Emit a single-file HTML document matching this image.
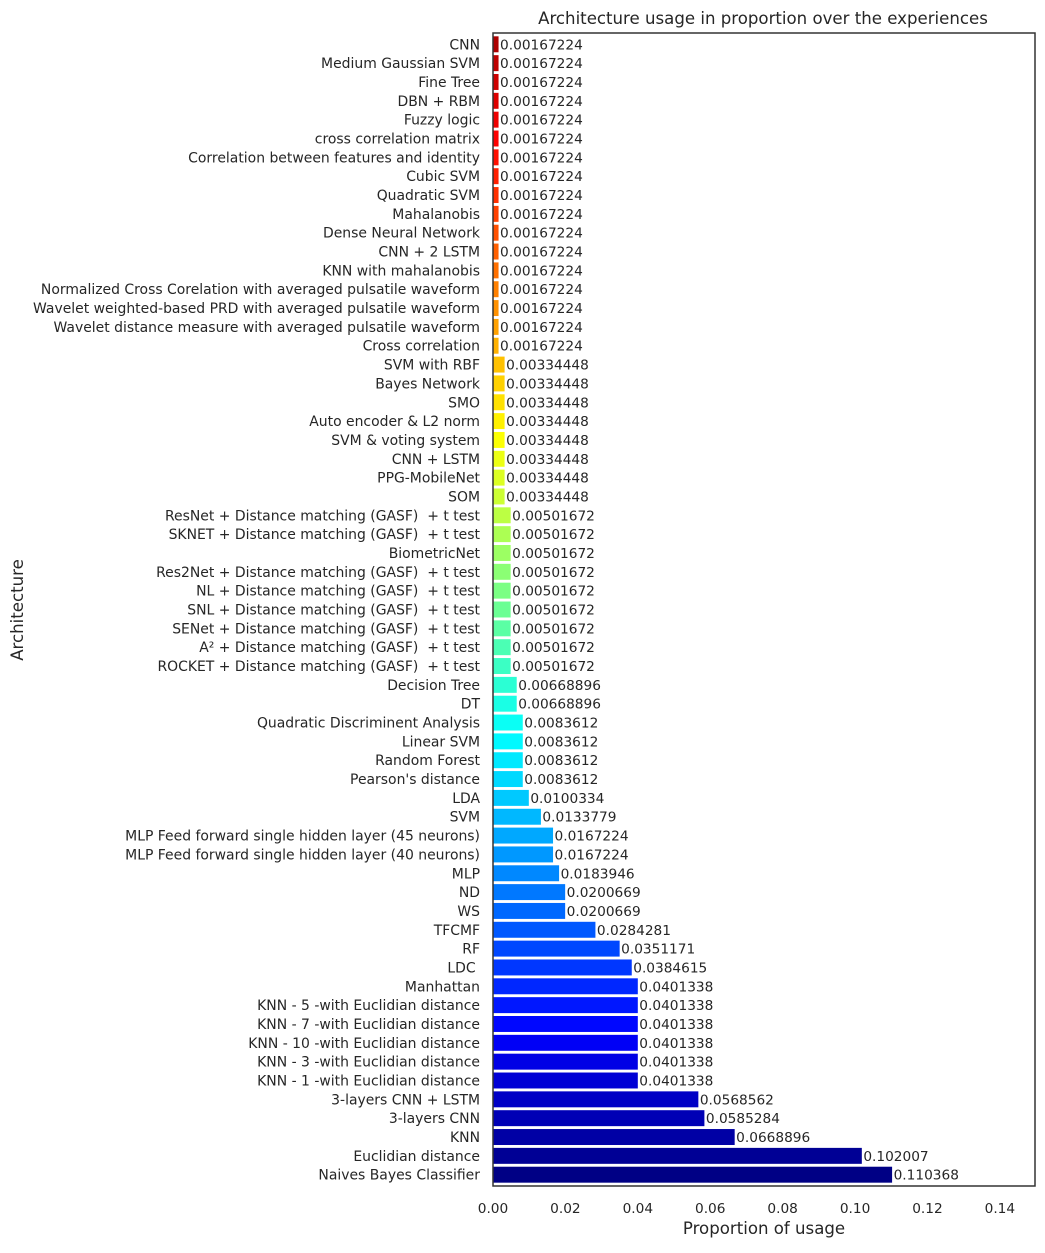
<!DOCTYPE html>
<html><head><meta charset="utf-8"><style>
body{margin:0;background:#fff;font-family:"Liberation Sans","DejaVu Sans",sans-serif}
text{white-space:pre}
</style></head><body>
<svg id="c" width="1045" height="1248" style="font-family:'DejaVu Sans','Liberation Sans',sans-serif"></svg>
<script>
const categories=["CNN","Medium Gaussian SVM","Fine Tree","DBN + RBM","Fuzzy logic","cross correlation matrix","Correlation between features and identity","Cubic SVM","Quadratic SVM","Mahalanobis","Dense Neural Network","CNN + 2 LSTM","KNN with mahalanobis","Normalized Cross Corelation with averaged pulsatile waveform","Wavelet weighted-based PRD with averaged pulsatile waveform","Wavelet distance measure with averaged pulsatile waveform","Cross correlation","SVM with RBF","Bayes Network","SMO","Auto encoder & L2 norm","SVM & voting system","CNN + LSTM","PPG-MobileNet","SOM","ResNet + Distance matching (GASF)  + t test","SKNET + Distance matching (GASF)  + t test","BiometricNet","Res2Net + Distance matching (GASF)  + t test","NL + Distance matching (GASF)  + t test","SNL + Distance matching (GASF)  + t test","SENet + Distance matching (GASF)  + t test","A² + Distance matching (GASF)  + t test","ROCKET + Distance matching (GASF)  + t test","Decision Tree","DT","Quadratic Discriminent Analysis","Linear SVM","Random Forest","Pearson's distance","LDA","SVM","MLP Feed forward single hidden layer (45 neurons)","MLP Feed forward single hidden layer (40 neurons)","MLP","ND","WS","TFCMF","RF","LDC ","Manhattan","KNN - 5 -with Euclidian distance","KNN - 7 -with Euclidian distance","KNN - 10 -with Euclidian distance","KNN - 3 -with Euclidian distance","KNN - 1 -with Euclidian distance","3-layers CNN + LSTM","3-layers CNN","KNN","Euclidian distance","Naives Bayes Classifier"];
const values=[0.00167224,0.00167224,0.00167224,0.00167224,0.00167224,0.00167224,0.00167224,0.00167224,0.00167224,0.00167224,0.00167224,0.00167224,0.00167224,0.00167224,0.00167224,0.00167224,0.00167224,0.00334448,0.00334448,0.00334448,0.00334448,0.00334448,0.00334448,0.00334448,0.00334448,0.00501672,0.00501672,0.00501672,0.00501672,0.00501672,0.00501672,0.00501672,0.00501672,0.00501672,0.00668896,0.00668896,0.0083612,0.0083612,0.0083612,0.0083612,0.0100334,0.0133779,0.0167224,0.0167224,0.0183946,0.0200669,0.0200669,0.0284281,0.0351171,0.0384615,0.0401338,0.0401338,0.0401338,0.0401338,0.0401338,0.0401338,0.0568562,0.0585284,0.0668896,0.102007,0.110368];
const xTicks=[0,0.02,0.04,0.06,0.08,0.10,0.12,0.14];
const xTickLabels=["0.00","0.02","0.04","0.06","0.08","0.10","0.12","0.14"];
const NS="http://www.w3.org/2000/svg",svg=document.getElementById('c');
const L=493,R=1035,T=33,B=1186,xmax=0.1497;
const x=v=>L+v/xmax*(R-L);
const n=categories.length,step=(B-T)/(n+0.2);
const y=i=>T+step*0.6+i*step;
function mk(t,a,p){const e=document.createElementNS(NS,t);for(const k in a)e.setAttribute(k,a[k]);(p||svg).appendChild(e);return e;}
function jet(t){const c=v=>Math.round(255*Math.max(0,Math.min(1,v)));return `rgb(${c(1.5-Math.abs(4*t-3))},${c(1.5-Math.abs(4*t-2))},${c(1.5-Math.abs(4*t-1))})`;}
categories.forEach((cat,i)=>{
  const t=1-i/(n-1);
  const b=mk('rect',{x:L,y:y(i)-step*0.45,width:x(values[i])-L,height:step*0.9,fill:jet(0.005+t*0.95),stroke:'#fff','stroke-width':1});
  
  
  const lb=mk('text',{x:L-13,y:y(i)+5,'text-anchor':'end','font-size':13.95,fill:'#262626'});lb.textContent=cat;
  
  
  const vl=mk('text',{x:x(values[i])+1,y:y(i)+5,'font-size':13.7,fill:'#262626'});vl.textContent=String(values[i]);
  
  
});
xTicks.forEach((v,i)=>{const tx=mk('text',{x:x(v),y:1213,'text-anchor':'middle','font-size':13.7,fill:'#262626'});tx.textContent=xTickLabels[i];
  
  });
const fr=mk('rect',{x:L,y:T,width:R-L,height:B-T,fill:'none',stroke:'#333','stroke-width':1.5});


const ti=mk('text',{x:(L+R)/2-1,y:24,'text-anchor':'middle','font-size':16.6,fill:'#262626'});ti.textContent="Architecture usage in proportion over the experiences";


const xl=mk('text',{x:(L+R)/2,y:1234,'text-anchor':'middle','font-size':16.6,fill:'#262626'});xl.textContent="Proportion of usage";


const yl=mk('text',{x:0,y:0,'text-anchor':'middle','font-size':16.6,fill:'#262626',transform:'translate(23,610) rotate(-90)'});yl.textContent="Architecture";


</script>
</body></html>
